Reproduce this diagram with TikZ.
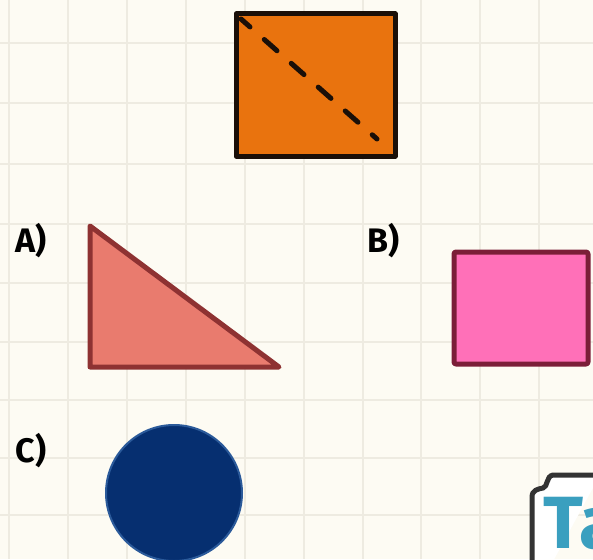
\documentclass[tikz,border=0pt]{standalone}
\usepackage{fontspec}
\setmainfont{Fira Sans}
\definecolor{paper}{HTML}{FDFBF3}
\definecolor{gridcol}{HTML}{EEEBE1}
\definecolor{sqfill}{HTML}{E9730E}
\definecolor{sqline}{HTML}{1A0F08}
\definecolor{trifill}{HTML}{E97B6E}
\definecolor{triline}{HTML}{8E3232}
\definecolor{rectfill}{HTML}{FF70B8}
\definecolor{rectline}{HTML}{7B1E38}
\definecolor{discfill}{HTML}{062F70}
\definecolor{discline}{HTML}{2B5A9A}
\definecolor{logoteal}{HTML}{3A9FBF}
\definecolor{logoline}{HTML}{333333}
\tikzset{
  gridline/.style={color=gridcol,line width=1.6},
  shapeline/.style={line width=5,line join=round},
  lbl/.style={inner sep=0pt,font=\fontsize{34}{34}\selectfont\bfseries}
}
\begin{document}
\begin{tikzpicture}[x=1pt,y=-1pt]
\useasboundingbox (0,0) rectangle (593,559);
\clip (0,0) rectangle (593,559);
\fill[paper] (0,0) rectangle (593,559);
\foreach \x in {9,68,127,186,245,304,363,421,480,539}
\draw[gridline] (\x,0) -- (\x,559);
\foreach \y in {43,103,164,224,283,342,400,458,515}
\draw[gridline] (0,\y) -- (593,\y);
\draw[shapeline,fill=sqfill,draw=sqline] (236,14) rectangle (395,156);
\draw[line width=5,line cap=round,dash pattern=on 17 off 19,dash phase=5,draw=sqline] (241,19) -- (377,139);
\node[lbl] (labA) at (31,241) {A)};
\draw[shapeline,fill=trifill,draw=triline] (90,226) -- (90,367) -- (279,367) -- cycle;
\node[lbl] (labB) at (384,241) {B)};
\draw[shapeline,fill=rectfill,draw=rectline,rounded corners=2] (454,252) rectangle (588,364);
\node[lbl] (labC) at (31,451) {C)};
\draw[line width=2,fill=discfill,draw=discline] (174,493) circle (68);
\draw[line width=5,draw=logoline,fill=white] (532,600) -- (532,497) .. controls (532,490) and (538,489) .. (543,488) .. controls (548,487) and (546,476) .. (553,475) -- (600,475);
\node[inner sep=0pt,anchor=north west,color=logoteal,font=\fontsize{74}{74}\selectfont\bfseries] (logo) at (543,497) {Ta};
\end{tikzpicture}
\end{document}
